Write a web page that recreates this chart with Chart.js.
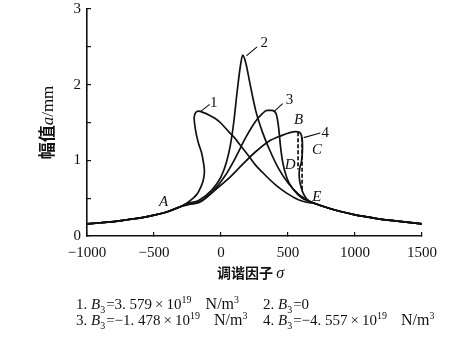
<!DOCTYPE html>
<html>
<head>
<meta charset="utf-8">
<script src="https://cdn.jsdelivr.net/npm/chart.js@4/dist/chart.umd.min.js"></script>
<style>
  html, body { margin: 0; padding: 0; background: #fff; }
  #wrap { width: 455px; height: 342px; position: relative; }
</style>
</head>
<body>
<div id="wrap"><canvas id="c" width="455" height="342"></canvas></div>
<script>
// Detuning sigma vs. amplitude a (mm) for four values of the cubic stiffness B3.
// Shared far-field tails (all four curves coincide there).
const tailLeftSigma  = [-1000, -900, -800, -700, -600, -500, -400, -300];
const tailLeftAmp    = [0.16, 0.175, 0.19, 0.215, 0.24, 0.275, 0.32, 0.39];
const tailRightSigma = [700, 800, 900, 1000, 1100, 1200, 1300, 1400, 1500];
const tailRightAmp   = [0.43, 0.37, 0.32, 0.28, 0.25, 0.22, 0.2, 0.18, 0.16];

// Curve 1: B3 = 3.579e19 (softening, folds to the left)
const curve1Sigma = [-250, -215, -180, -155, -135, -126, -124, -130, -145, -167, -185, -196, -200, -190, -167, -130, -80, -40, 0, 57, 100, 157, 210, 256, 305, 355, 405, 455, 505, 554, 610, 660];
const curve1Amp   = [0.44, 0.49, 0.55, 0.63, 0.72, 0.8, 0.87, 0.96, 1.1, 1.22, 1.35, 1.47, 1.57, 1.63, 1.65, 1.63, 1.59, 1.55, 1.49, 1.38, 1.3, 1.17, 1.05, 0.94, 0.85, 0.76, 0.68, 0.61, 0.55, 0.5, 0.46, 0.44];

// Curve 2: B3 = 0 (linear)
const curve2Sigma = [-250, -167, -67, 0, 40, 70, 95, 120, 145, 162, 175, 190, 210, 235, 260, 285, 310, 355, 430, 505, 580, 620, 660];
const curve2Amp   = [0.43, 0.47, 0.61, 0.78, 0.97, 1.2, 1.5, 1.9, 2.25, 2.39, 2.35, 2.25, 2.07, 1.85, 1.65, 1.5, 1.37, 1.17, 0.89, 0.69, 0.55, 0.5, 0.46];

// Curve 3: B3 = -1.478e19 (hardening)
const curve3Sigma = [-250, -167, -67, 32, 107, 181, 256, 310, 343, 381, 410, 425, 435, 443, 460, 493, 542, 604, 660];
const curve3Amp   = [0.42, 0.44, 0.58, 0.8, 1.03, 1.29, 1.51, 1.62, 1.66, 1.66, 1.62, 1.5, 1.35, 1.2, 0.98, 0.76, 0.61, 0.5, 0.46];

// Curve 4: B3 = -4.557e19 (hardening, narrow fold B-C-D-E)
const curve4Sigma = [-250, -142, -42, 57, 157, 256, 355, 455, 520, 555, 585, 600, 607, 607, 600, 588, 583, 587, 597, 612, 635, 660];
const curve4Amp   = [0.41, 0.47, 0.61, 0.76, 0.94, 1.11, 1.25, 1.33, 1.37, 1.38, 1.37, 1.33, 1.25, 1.1, 0.98, 0.9, 0.82, 0.73, 0.65, 0.57, 0.5, 0.46];

// Jump lines of curve 4 (dashed)
const jumpBDSigma = [575, 575];
const jumpBDAmp   = [1.37, 0.88];
const jumpCESigma = [605, 605];
const jumpCEAmp   = [1.3, 0.58];

// Axis ticks
const xTicks = [-1000, -500, 0, 500, 1000, 1500];
const yTicks = [0, 0.5, 1, 1.5, 2, 2.5, 3];

const SERIF = '"Liberation Serif", "Times New Roman", serif';
const CJK = '"Noto Sans CJK SC", sans-serif';

function pts(xs, ys) { return xs.map((x, i) => ({ x: x, y: ys[i] })); }
function full(xs, ys) {
  return pts(tailLeftSigma, tailLeftAmp).concat(pts(xs, ys), pts(tailRightSigma, tailRightAmp));
}

// folded curves use bezier smoothing; single-valued curves use monotone cubic
const folded = { showLine: true, borderColor: '#111', borderWidth: 1.7, pointRadius: 0, tension: 0.3, fill: false };
const single = { showLine: true, borderColor: '#111', borderWidth: 1.7, pointRadius: 0, cubicInterpolationMode: 'monotone', fill: false };
const dashed = { showLine: true, borderColor: '#111', borderWidth: 1.7, pointRadius: 0, tension: 0, fill: false, borderDash: [4, 2] };

// Point letters and curve numbers with leader lines
const letterMarks = [
  { t: 'A', x: -428, y: 0.45 },
  { t: 'B', x: 579, y: 1.53 },
  { t: 'C', x: 716, y: 1.135 },
  { t: 'D', x: 517, y: 0.94 },
  { t: 'E', x: 716, y: 0.51 }
];
const curveNumbers = [
  { t: '1', x: -55, y: 1.76, from: [-149, 1.65], to: [-85, 1.74] },
  { t: '2', x: 323, y: 2.55, from: [189, 2.38], to: [269, 2.5] },
  { t: '3', x: 512, y: 1.79, from: [393, 1.64], to: [460, 1.75] },
  { t: '4', x: 778, y: 1.36, from: [617, 1.3], to: [741, 1.36] }
];

// run = [text, font, dy, gapAfter, gapBefore]
function drawRuns(ctx, x, y, runs) {
  let cx = x;
  for (const r of runs) {
    cx += r[4] || 0;
    ctx.font = r[1];
    ctx.fillText(r[0], cx, y + (r[2] || 0));
    cx += ctx.measureText(r[0]).width + (r[3] || 0);
  }
  return cx;
}
function runsWidth(ctx, runs) {
  let w = 0;
  for (const r of runs) { ctx.font = r[1]; w += ctx.measureText(r[0]).width + (r[3] || 0) + (r[4] || 0); }
  return w;
}

const annotate = {
  id: 'annotate',
  afterDatasetsDraw(chart) {
    const ctx = chart.ctx;
    const xs = chart.scales.x, ys = chart.scales.y;
    ctx.save();
    ctx.fillStyle = '#111';
    ctx.strokeStyle = '#111';
    ctx.lineWidth = 1.1;
    ctx.textAlign = 'center';
    ctx.textBaseline = 'middle';
    ctx.font = 'italic 15px ' + SERIF;
    for (const m of letterMarks) ctx.fillText(m.t, xs.getPixelForValue(m.x), ys.getPixelForValue(m.y));
    ctx.font = '15px ' + SERIF;
    for (const m of curveNumbers) {
      ctx.beginPath();
      ctx.moveTo(xs.getPixelForValue(m.from[0]), ys.getPixelForValue(m.from[1]));
      ctx.lineTo(xs.getPixelForValue(m.to[0]), ys.getPixelForValue(m.to[1]));
      ctx.stroke();
      ctx.fillText(m.t, xs.getPixelForValue(m.x), ys.getPixelForValue(m.y));
    }
    ctx.restore();
  },
  afterDraw(chart) {
    const ctx = chart.ctx;
    const area = chart.chartArea;
    ctx.save();
    ctx.fillStyle = '#111';
    ctx.textAlign = 'left';
    ctx.textBaseline = 'alphabetic';

    // y-axis title
    const yRuns = [['幅值', 'bold 17px ' + CJK], ['a', 'italic 17px ' + SERIF], ['/mm', '17px ' + SERIF]];
    ctx.save();
    ctx.translate(53, (area.top + area.bottom) / 2);
    ctx.rotate(-Math.PI / 2);
    drawRuns(ctx, -runsWidth(ctx, yRuns) / 2, 0, yRuns);
    ctx.restore();

    // x-axis title
    const xRuns = [['调谐因子 ', 'bold 14px ' + CJK], ['σ', 'italic 16px ' + SERIF]];
    drawRuns(ctx, (area.left + area.right) / 2 - runsWidth(ctx, xRuns) / 2 - 4, 278, xRuns);

    // legend caption
    const fN = '15px ' + SERIF, fI = 'italic 15px ' + SERIF, fS = '10px ' + SERIF, fU = '16px ' + SERIF;
    const sub = 4, sup = -6;
    const times = ['×', fN, 0, 3, 3];
    const unit = [['N/m', fU, 0, 0, 14], ['3', fS, sup]];
    drawRuns(ctx, 76, 309, [['1. ', fN], ['B', fI], ['3', fS, sub, 1], ['=3. 579', fN], times, ['10', fN], ['19', fS, sup]].concat(unit));
    drawRuns(ctx, 263, 309, [['2. ', fN], ['B', fI], ['3', fS, sub, 1], ['=0', fN]]);
    drawRuns(ctx, 76, 325, [['3. ', fN], ['B', fI], ['3', fS, sub, 1], ['=−1. 478', fN], times, ['10', fN], ['19', fS, sup]].concat(unit));
    drawRuns(ctx, 263, 325, [['4. ', fN], ['B', fI], ['3', fS, sub, 1], ['=−4. 557', fN], times, ['10', fN], ['19', fS, sup]].concat(unit));
    ctx.restore();
  }
};

new Chart(document.getElementById('c'), {
  type: 'scatter',
  data: {
    datasets: [
      Object.assign({ label: '1', data: full(curve1Sigma, curve1Amp) }, folded),
      Object.assign({ label: '2', data: full(curve2Sigma, curve2Amp) }, single),
      Object.assign({ label: '3', data: full(curve3Sigma, curve3Amp) }, single),
      Object.assign({ label: '4', data: full(curve4Sigma, curve4Amp) }, folded),
      Object.assign({ label: 'B-D', data: pts(jumpBDSigma, jumpBDAmp) }, dashed),
      Object.assign({ label: 'C-E', data: pts(jumpCESigma, jumpCEAmp) }, dashed)
    ]
  },
  options: {
    responsive: false,
    devicePixelRatio: 1,
    animation: false,
    layout: { padding: { left: 0, right: 33, top: 0, bottom: 0 } },
    plugins: { legend: { display: false }, tooltip: { enabled: false } },
    scales: {
      x: {
        type: 'linear',
        min: -1000, max: 1500,
        afterBuildTicks: s => { s.ticks = xTicks.map(v => ({ value: v })); },
        ticks: { color: '#111', font: { family: SERIF, size: 15 }, padding: 12, maxRotation: 0, autoSkip: false,
                 callback: v => (v < 0 ? '−' + Math.abs(v) : String(v)) },
        grid: { drawOnChartArea: false, drawTicks: true, tickLength: -4, color: '#111', lineWidth: 1.2 },
        border: { display: true, color: '#111', width: 1.6 },
        afterFit: s => { s.height = 106; }
      },
      y: {
        type: 'linear',
        min: 0, max: 3,
        afterBuildTicks: s => { s.ticks = yTicks.map(v => ({ value: v })); },
        ticks: { color: '#111', font: { family: SERIF, size: 15 }, padding: 10, autoSkip: false,
                 callback: v => (Number.isInteger(v) ? String(v) : '') },
        grid: { drawOnChartArea: false, drawTicks: true, tickLength: -4, color: '#111', lineWidth: 1.2 },
        border: { display: true, color: '#111', width: 1.6 },
        afterFit: s => { s.width = 87; s.paddingTop = 9; s.paddingBottom = 0; }
      }
    }
  },
  plugins: [annotate]
});
</script>
</body>
</html>
